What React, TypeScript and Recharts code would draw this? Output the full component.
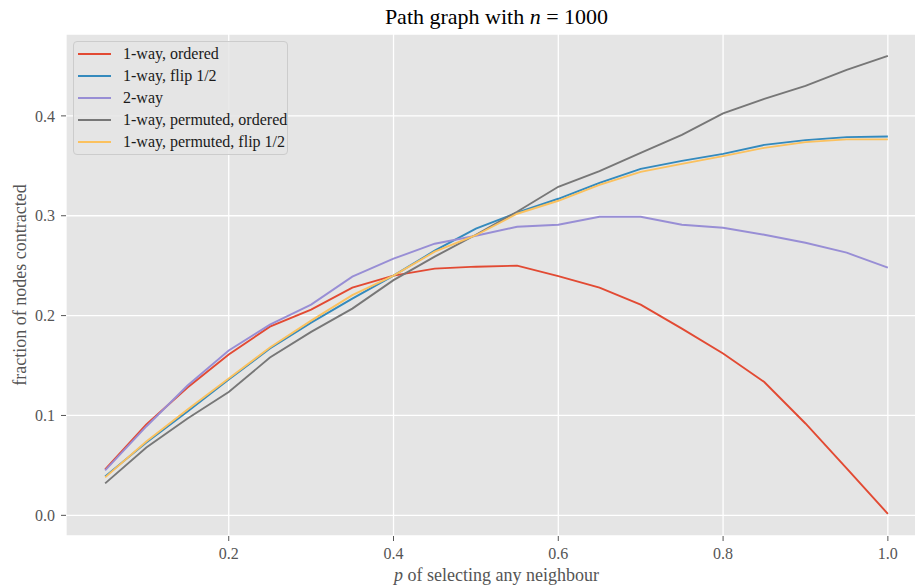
import React from "react";
import { LineChart, Line, XAxis, YAxis, CartesianGrid } from "recharts";

// x values: probability p of selecting any neighbour
const P = [0.05, 0.1, 0.15, 0.2, 0.25, 0.3, 0.35, 0.4, 0.45, 0.5, 0.55, 0.6, 0.65, 0.7, 0.75, 0.8, 0.85, 0.9, 0.95, 1.0];

const ONE_WAY_ORDERED = [0.046, 0.091, 0.128, 0.161, 0.189, 0.206, 0.228, 0.240, 0.247, 0.249, 0.250, 0.2395, 0.228, 0.211, 0.187, 0.162, 0.1335, 0.092, 0.047, 0.0015];
const ONE_WAY_FLIP = [0.039, 0.073, 0.104, 0.136, 0.167, 0.193, 0.217, 0.240, 0.265, 0.287, 0.303, 0.317, 0.333, 0.347, 0.355, 0.362, 0.371, 0.3757, 0.3787, 0.3794];
const TWO_WAY = [0.045, 0.089, 0.130, 0.165, 0.191, 0.211, 0.239, 0.257, 0.272, 0.280, 0.289, 0.291, 0.299, 0.299, 0.291, 0.288, 0.281, 0.273, 0.263, 0.248];
const PERM_ORDERED = [0.032, 0.068, 0.097, 0.1235, 0.158, 0.1837, 0.207, 0.2355, 0.259, 0.281, 0.304, 0.329, 0.3447, 0.363, 0.381, 0.4025, 0.417, 0.430, 0.446, 0.460];
const PERM_FLIP = [0.038, 0.074, 0.106, 0.137, 0.168, 0.195, 0.2205, 0.240, 0.264, 0.2805, 0.302, 0.315, 0.331, 0.344, 0.352, 0.3597, 0.368, 0.3737, 0.3765, 0.3765];

const X_TICKS = [0.2, 0.4, 0.6, 0.8, 1.0];
const Y_TICKS = [0.0, 0.1, 0.2, 0.3, 0.4];

const SERIES = [
  { key: "a", name: "1-way, ordered", values: ONE_WAY_ORDERED, color: "#E24A33" },
  { key: "b", name: "1-way, flip 1/2", values: ONE_WAY_FLIP, color: "#348ABD" },
  { key: "c", name: "2-way", values: TWO_WAY, color: "#988ED5" },
  { key: "d", name: "1-way, permuted, ordered", values: PERM_ORDERED, color: "#777777" },
  { key: "e", name: "1-way, permuted, flip 1/2", values: PERM_FLIP, color: "#FBC15E" },
];

const data = P.map((p, i) => {
  const row: Record<string, number> = { p };
  SERIES.forEach((s) => {
    row[s.key] = s.values[i];
  });
  return row;
});

const FONT = '"Liberation Serif", "DejaVu Serif", "Times New Roman", serif';
const tickStyle = { fill: "#555555", fontSize: 16, fontFamily: FONT };

function LegendBox() {
  return (
    <div
      style={{
        position: "absolute",
        left: 73,
        top: 41,
        width: 213,
        height: 112,
        background: "rgba(229,229,229,0.85)",
        border: "1px solid #cccccc",
        borderRadius: 4,
        fontFamily: FONT,
        fontSize: 16,
        color: "#1a1a1a",
      }}
    >
      {SERIES.map((s, i) => (
        <div
          key={s.key}
          style={{
            position: "absolute",
            left: 0,
            top: 0.5 + i * 22,
            height: 22,
            display: "flex",
            alignItems: "center",
            whiteSpace: "nowrap",
          }}
        >
          <div style={{ width: 33, height: 2, background: s.color, marginLeft: 4 }} />
          <span style={{ marginLeft: 12, lineHeight: "22px" }}>{s.name}</span>
        </div>
      ))}
    </div>
  );
}

export default function App() {
  return (
    <div
      style={{
        position: "absolute",
        left: 0,
        top: 0,
        width: 915,
        height: 587,
        overflow: "hidden",
        background: "#ffffff",
      }}
    >
      <LineChart
        width={927}
        height={587}
        data={data}
        margin={{ top: 34, right: 0, bottom: 0, left: 6 }}
      >
        <CartesianGrid fill="#E5E5E5" stroke="#ffffff" strokeWidth={1.3} />
        <XAxis
          dataKey="p"
          type="number"
          domain={[0.0025, 1.0475]}
          allowDataOverflow
          ticks={X_TICKS}
          tickFormatter={(v: number) => v.toFixed(1)}
          axisLine={false}
          tickLine={{ stroke: "#555555" }}
          tickSize={5}
          tickMargin={7}
          height={51}
          tick={tickStyle}
        />
        <YAxis
          type="number"
          domain={[-0.0207, 0.482]}
          allowDataOverflow
          ticks={Y_TICKS}
          tickFormatter={(v: number) => v.toFixed(1)}
          axisLine={false}
          tickLine={{ stroke: "#555555" }}
          tickSize={5}
          tickMargin={6}
          width={60}
          tick={tickStyle}
        />
        {SERIES.map((s) => (
          <Line
            key={s.key}
            dataKey={s.key}
            name={s.name}
            stroke={s.color}
            strokeWidth={1.9}
            dot={false}
            activeDot={false}
            type="linear"
            isAnimationActive={false}
          />
        ))}
      </LineChart>
      <svg
        width={915}
        height={587}
        style={{ position: "absolute", left: 0, top: 0, pointerEvents: "none" }}
      >
        <text x={496.5} y={24} textAnchor="middle" fontFamily={FONT} fontSize={22} fill="#000000">
          Path graph with <tspan fontStyle="italic">n</tspan>
          <tspan> = 1000</tspan>
        </text>
        <text x={496.5} y={581} textAnchor="middle" fontFamily={FONT} fontSize={18} fill="#555555">
          <tspan fontStyle="italic">p</tspan> of selecting any neighbour
        </text>
        <text
          x={0}
          y={0}
          transform="translate(26,285) rotate(-90)"
          textAnchor="middle"
          fontFamily={FONT}
          fontSize={18}
          fill="#555555"
        >
          fraction of nodes contracted
        </text>
      </svg>
      <LegendBox />
    </div>
  );
}
